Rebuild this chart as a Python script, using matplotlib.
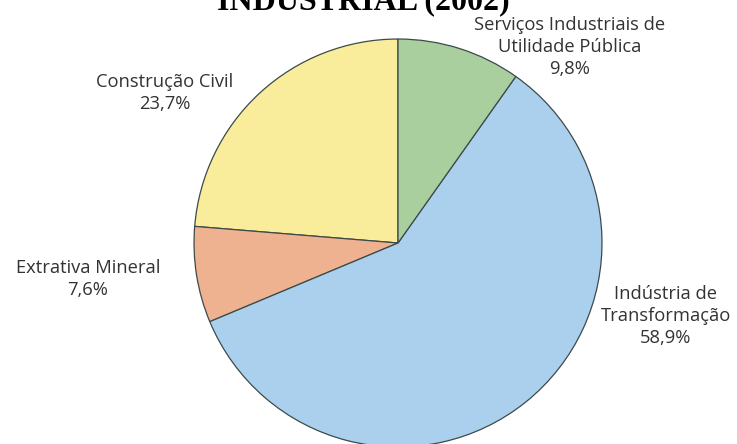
import matplotlib
matplotlib.use('Agg')
from matplotlib import pyplot as plt

# PIB industrial 2002 - participação dos setores
setores = ['Construção Civil', 'Extrativa Mineral',
           'Indústria de\nTransformação', 'Serviços Industriais de\nUtilidade Pública']
valores = [23.7, 7.6, 58.9, 9.8]
cores = ['#f9ec9a', '#eeb290', '#abd0ee', '#aacf9f']

# posição dos rótulos em pixels (x, y a partir do topo)
pos_rotulos = [(165, 93), (88, 279), (666, 316), (570, 47)]

W, H = 737, 444
fig = plt.figure(figsize=(W / 100, H / 100), dpi=100)
fig.patch.set_facecolor('white')

cx, cy, r = 398, 243, 205
ax = fig.add_axes([(cx - r) / W, (H - cy - r) / H, 2 * r / W, 2 * r / H])
ax.pie(valores, colors=cores, startangle=90, counterclock=True, radius=1,
       wedgeprops=dict(edgecolor='#3c4a4a', linewidth=0.9))
ax.set_xlim(-1.005, 1.005)
ax.set_ylim(-1.005, 1.005)
ax.set_aspect('equal')
ax.set_axis_off()

for nome, v, (px, py) in zip(setores, valores, pos_rotulos):
    txt = nome + '\n' + f'{v:.1f}'.replace('.', ',') + '%'
    fig.text(px / W, 1 - py / H, txt, ha='center', va='center',
             fontsize=13.2, family='Open Sans', color='#333333',
             linespacing=1.3)

# título (cortado no topo)
fig.text(363 / W, 1 - 9 / H, 'INDUSTRIAL (2002)', ha='center', va='baseline',
         fontsize=23, family='Liberation Serif', fontweight='bold', color='black')

fig.savefig('out.png', dpi=100, facecolor='white')
